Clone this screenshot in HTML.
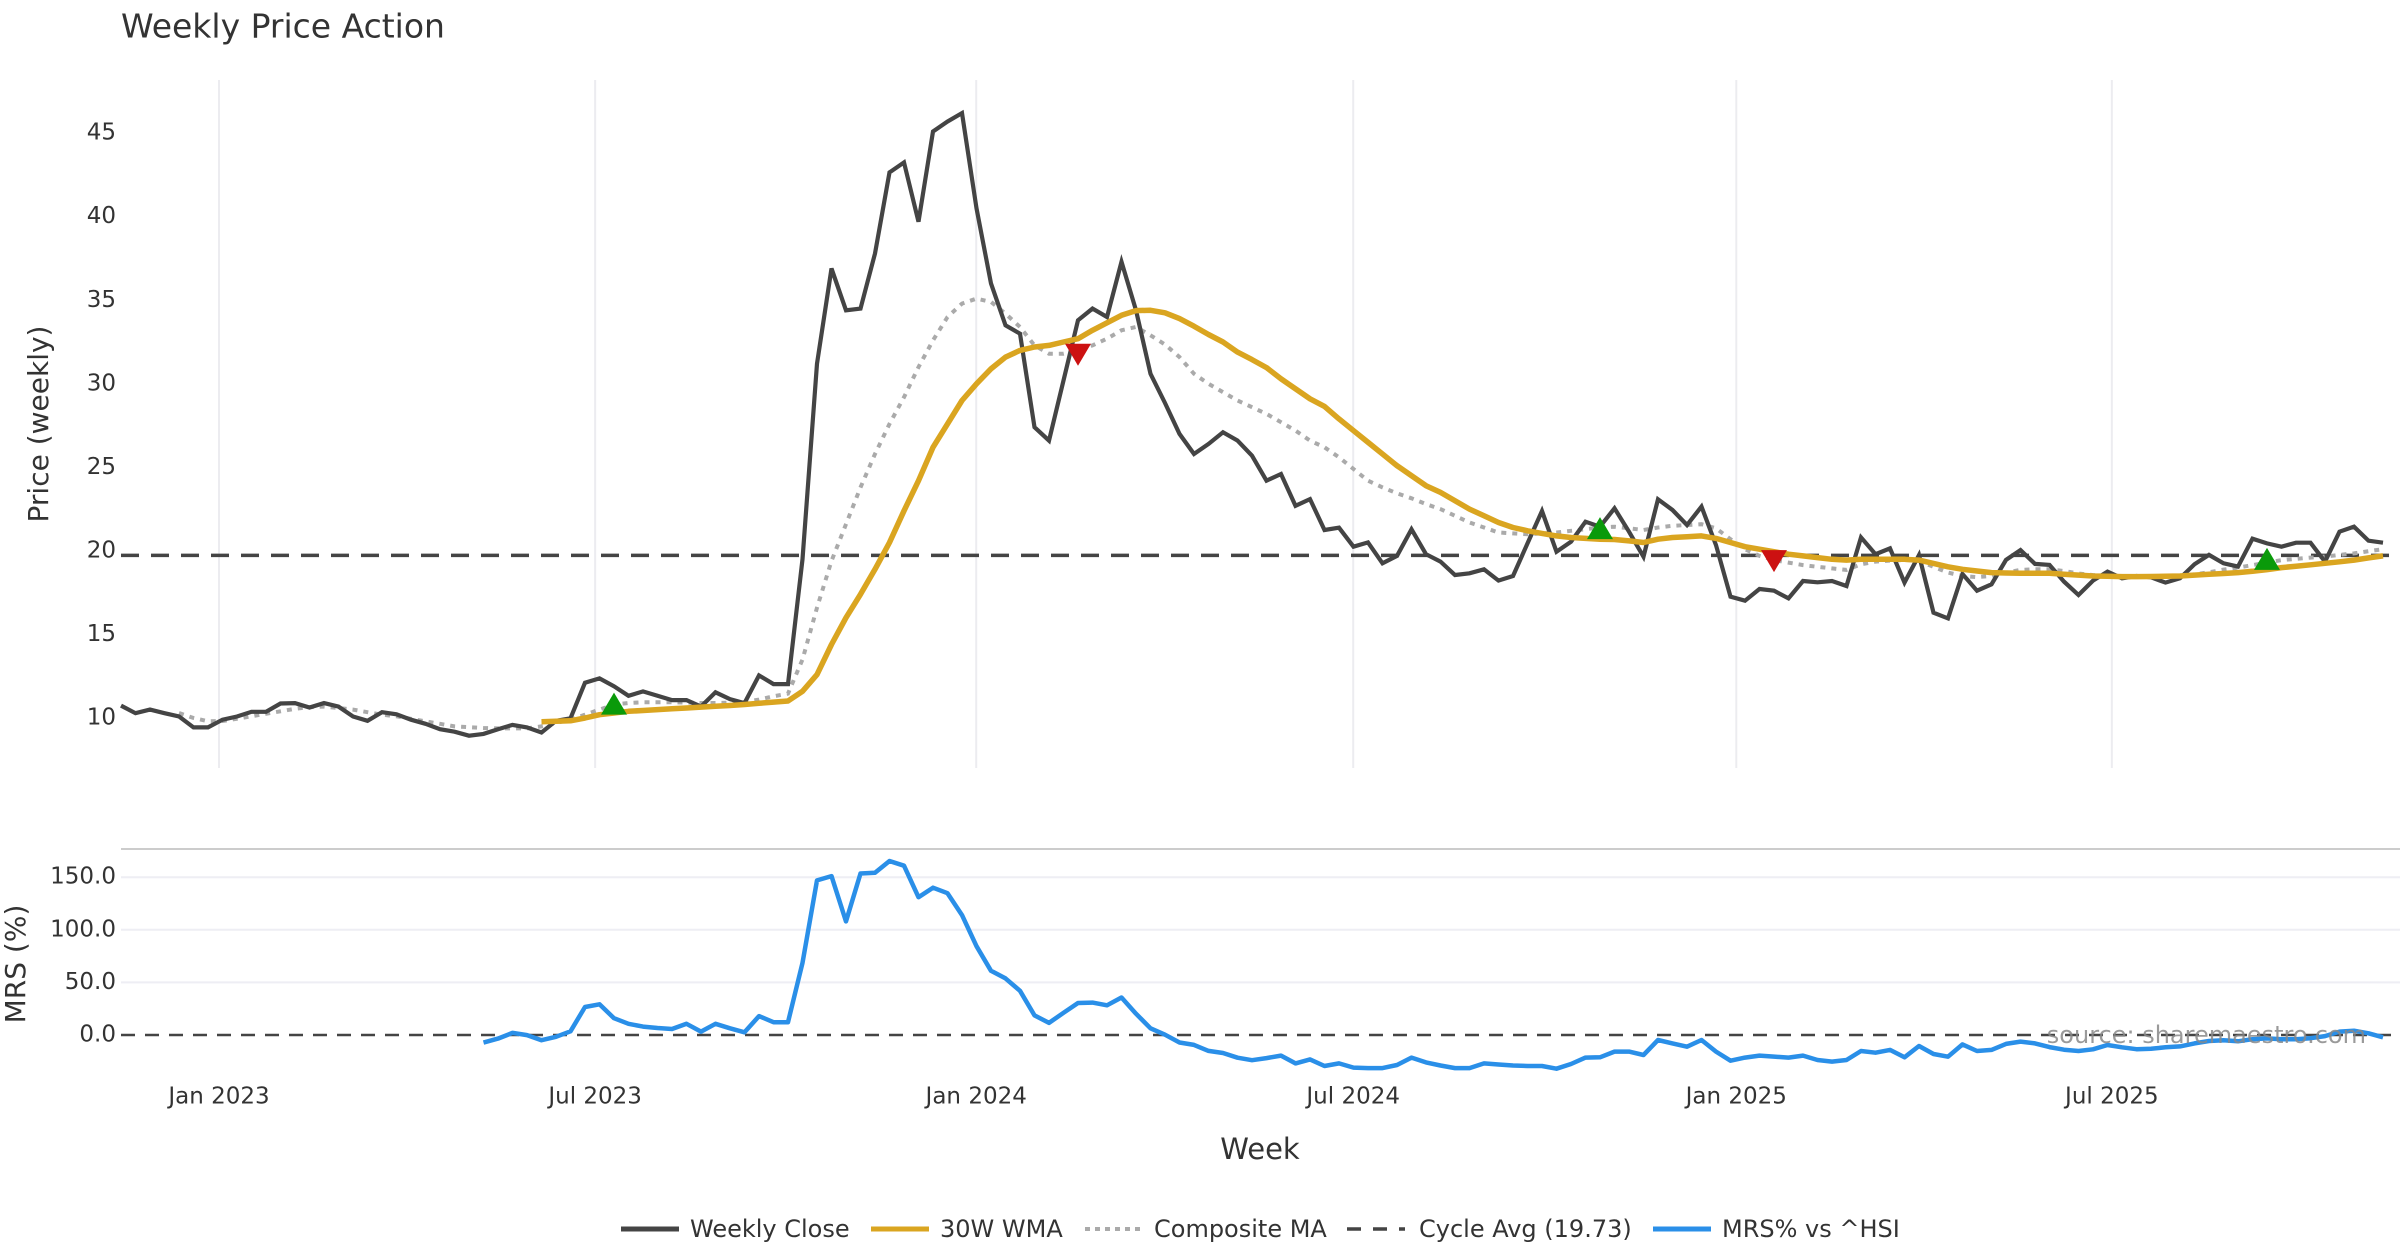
<!DOCTYPE html>
<html><head><meta charset="utf-8"><style>
html,body{margin:0;padding:0;background:#fff;}
svg{display:block;font-family:"DejaVu Sans","Liberation Sans",sans-serif;}
</style></head><body>
<svg id="chart" width="2400" height="1260" viewBox="0 0 2400 1260" xmlns="http://www.w3.org/2000/svg">
<text x="121" y="28" font-size="33" fill="#333" dominant-baseline="middle">Weekly Price Action</text>
<g id="grid"></g>
<g id="series"></g>
<g id="axes"></g>
<text transform="translate(40,424) rotate(-90)" text-anchor="middle" dominant-baseline="middle" font-size="28" fill="#333">Price (weekly)</text>
<text transform="translate(17,964) rotate(-90)" text-anchor="middle" dominant-baseline="middle" font-size="28" fill="#333">MRS (%)</text>
<text x="1260" y="1151" text-anchor="middle" dominant-baseline="middle" font-size="29" fill="#333">Week</text>
<g id="legend"></g>
</svg>
<script>
const closePrices = [10.74,10.29,10.5,10.29,10.09,9.44,9.44,9.9,10.09,10.37,10.37,10.87,10.89,10.63,10.89,10.68,10.09,9.83,10.35,10.22,9.9,9.65,9.33,9.18,8.94,9.05,9.33,9.59,9.44,9.13,9.83,9.98,12.11,12.37,11.9,11.33,11.59,11.33,11.07,11.07,10.68,
11.54,11.13,10.89,12.55,12.03,12.03,19.5,31.2,36.9,34.4,34.5,37.8,42.65,43.25,39.7,45.1,45.7,46.2,40.5,36.0,33.5,33.0,27.4,26.6,30.2,33.8,34.5,34.0,37.3,34.4,30.6,28.85,27.0,25.8,26.4,27.1,26.6,25.7,24.2,24.6,22.7,
23.1,21.25,21.39,20.25,20.51,19.26,19.7,21.29,19.8,19.36,18.56,18.66,18.9,18.22,18.5,20.45,22.39,19.95,20.55,21.75,21.45,22.55,21.15,19.65,23.09,22.45,21.55,22.65,20.35,17.26,17.02,17.72,17.62,17.16,18.2,18.12,18.2,17.9,
20.81,19.8,20.15,18.1,19.75,16.3,15.96,18.62,17.62,18.0,19.46,20.05,19.22,19.16,18.16,17.36,18.22,18.76,18.36,18.5,18.42,18.1,18.36,19.2,19.76,19.26,19.06,20.73,20.45,20.25,20.49,20.49,19.36,21.15,21.45,20.61,20.49];
const wmaStart = 29;
const wmaValues = [9.77,9.8,9.83,10.0,10.2,10.3,10.4,10.45,10.5,10.55,10.6,10.65,10.7,10.75,10.81,10.88,10.95,11.02,11.6,12.6,14.4,16.0,17.4,18.9,20.5,22.4,24.2,26.2,27.6,29.0,30.0,30.9,31.6,32.0,32.2,32.3,32.5,32.7,33.2,33.65,34.1,34.38,34.4,34.25,33.9,33.45,32.95,32.5,31.9,31.45,30.97,30.3,29.7,
29.1,28.65,27.9,27.2,26.5,25.8,25.1,24.5,23.9,23.5,23.0,22.5,22.1,21.7,21.4,21.2,21.05,20.9,20.8,20.75,20.7,20.68,20.6,20.5,20.7,20.8,20.85,20.9,20.75,20.5,20.25,20.1,19.95,19.8,19.7,19.6,19.5,19.45,
19.5,19.5,19.5,19.5,19.45,19.25,19.05,18.9,18.8,18.7,18.68,18.66,18.66,18.66,18.6,18.55,18.5,18.48,18.46,18.46,18.47,18.48,18.5,18.55,18.6,18.65,18.7,18.78,18.88,19.0,19.08,19.17,19.26,19.35,19.45,19.58,19.7];
const compStart = 4;
const compValues = [10.3,10.0,9.8,9.82,9.95,10.1,10.25,10.4,10.55,10.65,10.68,10.6,10.5,10.35,10.2,10.1,9.95,9.8,9.65,9.5,9.45,9.4,9.38,9.38,9.38,9.5,9.7,9.9,10.2,10.5,10.8,10.9,10.94,10.94,10.94,10.92,10.9,10.9,10.92,10.96,11.1,11.3,11.46,13.5,16.6,19.4,21.6,23.8,25.8,27.6,29.2,31.0,32.6,34.0,34.8,35.1,34.9,34.2,33.4,32.3,31.8,31.8,32.0,32.3,32.7,33.2,33.4,32.9,32.35,31.6,30.6,30.0,29.5,29.0,28.6,28.2,27.7,27.2,
26.6,26.2,25.6,24.9,24.2,23.8,23.45,23.15,22.8,22.5,22.1,21.7,21.4,21.1,21.05,21.0,21.05,21.1,21.2,21.3,21.4,21.45,21.35,21.25,21.4,21.5,21.55,21.6,21.35,20.7,20.1,19.7,19.45,19.3,19.15,19.05,18.95,18.86,
19.2,19.36,19.42,19.46,19.4,19.05,18.7,18.5,18.43,18.5,18.7,18.86,18.9,18.9,18.8,18.65,18.55,18.52,18.5,18.48,18.47,18.46,18.5,18.6,18.72,18.88,19.0,19.15,19.3,19.45,19.52,19.6,19.66,19.76,19.85,19.98,20.1];
const cycleAvg = 19.73;
const mrsStart = 25;
const mrsValues = [-7.2,-3.4,2.0,-0.1,-4.9,-1.7,3.5,26.6,29.2,16.0,10.6,8.0,6.7,5.7,10.6,3.2,10.6,6.4,2.6,18.0,12.2,12.2,68.5,147,151,108,153.5,154.2,165.4,160.9,131,140,134.8,114,84.4,61,53.8,42,18.6,11.5,21.1,30.4,30.8,28.2,35.6,20.2,6.4,0.3,-7.1,-9.4,-15.1,-17.1,-21.6,-24,-22,-19.6,-27,-23.2,-29.5,-27,-31,-31.5,-31.5,-28.5,-21.5,-26,-29,-31.5,-31.5,-27,-28,-29,-29.5,-29.5,-32,-27.6,-21.5,-21.2,-15.8,-15.8,-19,-4.8,-8,-11.1,-4.8,-15.8,-24.4,-21.5,-19.6,-20.5,-21.5,-19.6,-23.8,-25.3,-23.8,-15.2,-16.8,-14.2,-21.2,-10.5,-18.1,-20.6,-8.9,-15.2,-14.2,-8.5,-6.3,-8,-11.5,-14,-15.2,-13.6,-9.5,-11.7,-13.5,-13,-11.7,-10.8,-8,-5.7,-5,-6,-4,-3.2,-4.1,-4.1,-3,-1,3.2,4.1,1.6,-2.2];
const buyIdx = [34,102,148];
const buyPrice = [10.8,21.3,19.46];
const sellIdx = [66,114];
const sellPrice = [31.8,19.45];
const priceTicks = [10,15,20,25,30,35,40,45];
const mrsTicks = [0,50,100,150];
const monthLabels = ["Jan 2023","Jul 2023","Jan 2024","Jul 2024","Jan 2025","Jul 2025"];
const monthWeekPos = [6.76,32.7,58.98,84.98,111.4,137.3];

const NS="http://www.w3.org/2000/svg";
const X=i=>121+i*14.5;
const YP=v=>718-(v-10)*16.71;
const YM=v=>1035-v*1.052;
function mk(tag,attrs,parent){const e=document.createElementNS(NS,tag);for(const k in attrs)e.setAttribute(k,attrs[k]);parent.appendChild(e);return e;}
const grid=document.getElementById('grid'),series=document.getElementById('series'),axes=document.getElementById('axes'),legend=document.getElementById('legend');

monthWeekPos.forEach((w,k)=>{
  const gl=mk('line',{x1:X(w),x2:X(w),y1:80,y2:768,stroke:'#ececf0','stroke-width':2},grid);
  
  
  const t=mk('text',{x:X(w),y:1097,'text-anchor':'middle','dominant-baseline':'middle','font-size':23,fill:'#333'},axes);
  t.textContent=monthLabels[k];
  
  
});
const sep=mk('line',{x1:121,x2:2400,y1:849,y2:849,stroke:'#cccccc','stroke-width':2},grid);


priceTicks.forEach(v=>{
  const t=mk('text',{x:116,y:YP(v),'text-anchor':'end','dominant-baseline':'middle','font-size':23,fill:'#333'},axes);
  t.textContent=v;
  
  
});
mrsTicks.forEach(v=>{
  if(v!==0){const gl=mk('line',{x1:121,x2:2400,y1:YM(v),y2:YM(v),stroke:'#eeeef4','stroke-width':2},grid);
  
  }
  const t=mk('text',{x:116,y:YM(v),'text-anchor':'end','dominant-baseline':'middle','font-size':23,fill:'#333'},axes);
  t.textContent=v.toFixed(1);
  
  
});
function pts(arr,start,yf){return arr.map((v,k)=>X(start+k).toFixed(1)+','+yf(v).toFixed(1)).join(' ');}

const cyc=mk('line',{x1:121,x2:2400,y1:YP(cycleAvg),y2:YP(cycleAvg),stroke:'#444','stroke-width':3.5,'stroke-dasharray':'18 12'},series);


const comp=mk('polyline',{points:pts(compValues,compStart,YP),fill:'none',stroke:'#aaaaaa','stroke-width':4,'stroke-dasharray':'5 6'},series);


const cl=mk('polyline',{points:pts(closePrices,0,YP),fill:'none',stroke:'#444','stroke-width':4.2,'stroke-linejoin':'miter'},series);


const wm=mk('polyline',{points:pts(wmaValues,wmaStart,YP),fill:'none',stroke:'#daa520','stroke-width':5.5,'stroke-linejoin':'round'},series);


buyIdx.forEach((ix,k)=>{const x=X(ix),y=YP(buyPrice[k]);
  const m=mk('polygon',{points:`${x-13},${y+10} ${x+13},${y+10} ${x},${y-12}`,fill:'#0a9a0a'},series);
  
  });
sellIdx.forEach((ix,k)=>{const x=X(ix),y=YP(sellPrice[k]);
  const m=mk('polygon',{points:`${x-13},${y-10} ${x+13},${y-10} ${x},${y+12}`,fill:'#cc1111'},series);
  
  });
const zl=mk('line',{x1:121,x2:2400,y1:YM(0),y2:YM(0),stroke:'#444','stroke-width':2.5,'stroke-dasharray':'14 10'},series);


const mr=mk('polyline',{points:pts(mrsValues,mrsStart,YM),fill:'none',stroke:'#2a8fe8','stroke-width':4.5,'stroke-linejoin':'round'},series);


const src=mk('text',{x:2366,y:1036,'text-anchor':'end','dominant-baseline':'middle','font-size':24,fill:'#888','fill-opacity':0.85},series);
src.textContent='source: sharemaestro.com';



const legItems=[["Weekly Close",621,690,'#444',5,''],["30W WMA",871,940,'#daa520',5,''],["Composite MA",1085,1154,'#aaaaaa',4,'5 5'],["Cycle Avg (19.73)",1347,1419,'#444',3.5,'14 12'],["MRS% vs ^HSI",1653,1722,'#2a8fe8',5,'']];
legItems.forEach(it=>{
  const g=mk('g',{},legend);
  
  
  const a={x1:it[1],x2:it[1]+58,y1:1229,y2:1229,stroke:it[3],'stroke-width':it[4]};
  if(it[5])a['stroke-dasharray']=it[5];
  mk('line',a,g);
  const t=mk('text',{x:it[2],y:1230,'dominant-baseline':'middle','font-size':24,fill:'#333'},g);
  t.textContent=it[0];
});
</script>
</body></html>
